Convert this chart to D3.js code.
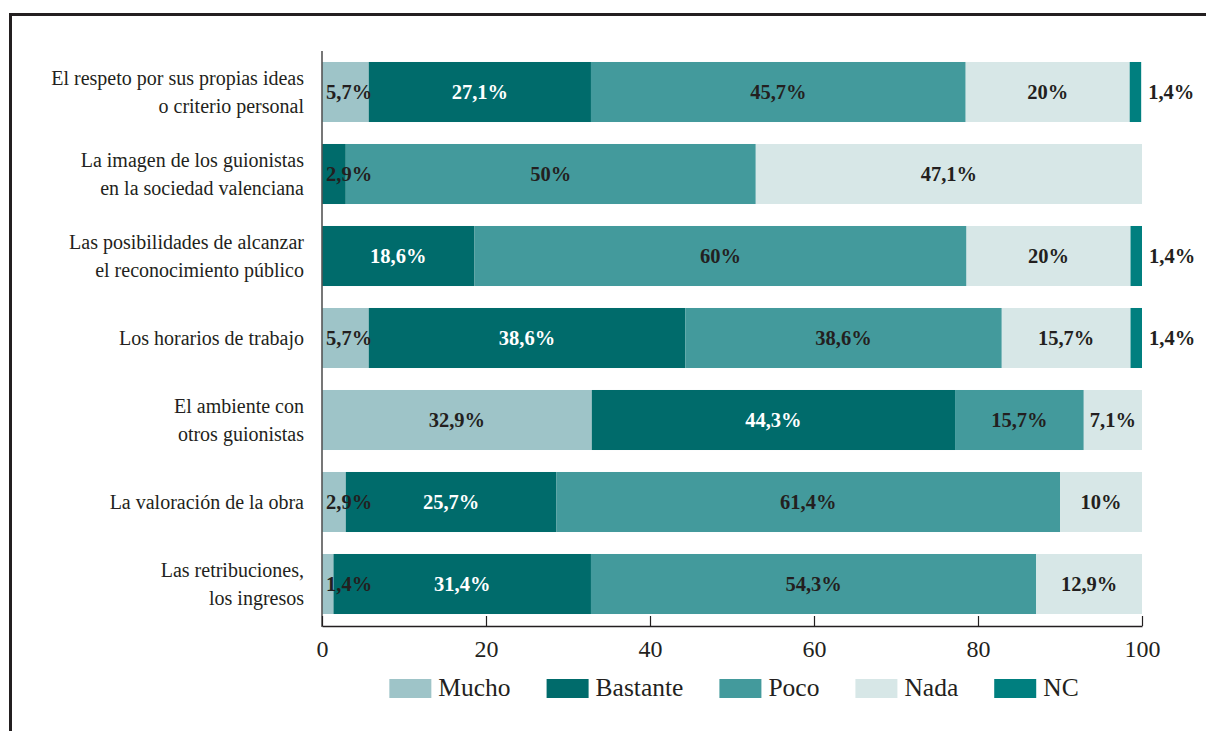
<!DOCTYPE html>
<html>
<head>
<meta charset="utf-8">
<script src="https://cdn.jsdelivr.net/npm/d3@7"></script>
<style>
  html, body { margin: 0; padding: 0; background: #fff; }
  svg { display: block; }
  text { font-family: "Liberation Serif", "Times New Roman", serif; fill: #231f20; }
</style>
</head>
<body>
<svg id="chart" width="1206" height="731"></svg>
<script>
// ---- data ----
const categories = [
  ["El respeto por sus propias ideas", "o criterio personal"],
  ["La imagen de los guionistas", "en la sociedad valenciana"],
  ["Las posibilidades de alcanzar", "el reconocimiento público"],
  ["Los horarios de trabajo"],
  ["El ambiente con", "otros guionistas"],
  ["La valoración de la obra"],
  ["Las retribuciones,", "los ingresos"]
];
const seriesNames = ["Mucho", "Bastante", "Poco", "Nada", "NC"];
const mucho    = [5.7, 0, 0, 5.7, 32.9, 2.9, 1.4];
const bastante = [27.1, 2.9, 18.6, 38.6, 44.3, 25.7, 31.4];
const poco     = [45.7, 50, 60, 38.6, 15.7, 61.4, 54.3];
const nada     = [20, 47.1, 20, 15.7, 7.1, 10, 12.9];
const nc       = [1.4, 0, 1.4, 1.4, 0, 0, 0];
const xTicks   = [0, 20, 40, 60, 80, 100];

const colors = {
  Mucho: "#9ec4c8",
  Bastante: "#006b6b",
  Poco: "#439a9c",
  Nada: "#d7e7e7",
  NC: "#007f7f"
};

const seriesValues = [mucho, bastante, poco, nada, nc];
const catKeys = categories.map((c, i) => "c" + i);
const rows = catKeys.map((k, i) => {
  const r = { key: k };
  seriesNames.forEach((s, j) => r[s] = seriesValues[j][i]);
  return r;
});

const svg = d3.select("#chart");

// frame
svg.append("rect")
  .attr("x", 10.5).attr("y", 14.5)
  .attr("width", 1400).attr("height", 900)
  .attr("fill", "none").attr("stroke", "#231f20").attr("stroke-width", 3);

const x = d3.scaleLinear().domain([0, 100]).range([322, 1142]);
const y = d3.scaleBand().domain(catKeys).range([51, 625])
  .paddingInner(0.268).paddingOuter(0.134);

const stack = d3.stack().keys(seriesNames)(rows);

const fmt = v => String(v).replace(".", ",") + "%";

const g = svg.append("g");
stack.forEach(layer => {
  const name = layer.key;
  g.selectAll(null).data(layer).enter().append("rect")
    .attr("x", d => x(d[0]))
    .attr("y", d => y(d.data.key))
    .attr("width", d => Math.max(0, x(d[1]) - x(d[0])))
    .attr("height", y.bandwidth())
    .attr("fill", colors[name]);
});

// value labels
stack.forEach(layer => {
  const name = layer.key;
  layer.forEach(d => {
    const v = d.data[name];
    if (!v) return;
    const cy = y(d.data.key) + y.bandwidth() / 2;
    const t = g.append("text")
      .attr("font-weight", "bold")
      .attr("font-size", 20.5)
      .attr("y", cy)
      .attr("dy", "0.34em")
      .text(fmt(v));
    const w = t.node().getComputedTextLength();
    if (name === "NC") {
      t.attr("x", x(d[1]) + 7).attr("text-anchor", "start");
    } else {
      let cx = (x(d[0]) + x(d[1])) / 2;
      cx = Math.max(cx, x(d[0]) + 4 + w / 2);
      t.attr("x", cx).attr("text-anchor", "middle");
      const white = name === "Bastante" && (x(d[1]) - x(d[0])) > w + 4;
      t.style("fill", white ? "#ffffff" : "#231f20");
    }
  });
});

// category labels
categories.forEach((lines, i) => {
  const cy = y(catKeys[i]) + y.bandwidth() / 2;
  const t = svg.append("text")
    .attr("text-anchor", "end")
    .attr("font-size", 20);
  lines.forEach((ln, j) => {
    const off = lines.length === 1 ? 7 : (j === 0 ? -7 : 21);
    t.append("tspan").attr("x", 304).attr("y", cy + off).text(ln);
  });
});

// y axis line
svg.append("line")
  .attr("x1", 322).attr("x2", 322)
  .attr("y1", 51).attr("y2", 627)
  .attr("stroke", "#555").attr("stroke-width", 1.6);

// x axis
const axisY = 626;
const xAxis = d3.axisBottom(x).tickValues(xTicks).tickSize(-10).tickSizeOuter(0).tickPadding(0)
  .tickFormat(d3.format("d"));
const ax = svg.append("g").attr("transform", `translate(0,${axisY})`).call(xAxis);
ax.select(".domain").attr("stroke", "#231f20").attr("stroke-width", 1.6);
ax.selectAll(".tick line").attr("stroke", "#231f20").attr("stroke-width", 1.2);
ax.selectAll(".tick text")
  .attr("font-family", "Liberation Serif")
  .attr("font-size", 24)
  .attr("fill", "#231f20")
  .attr("y", 31).attr("dy", 0);

// legend
const leg = svg.append("g");
let cursor = 0;
seriesNames.forEach(s => {
  const it = leg.append("g");
  it.append("rect").attr("width", 42).attr("height", 19).attr("y", -17).attr("fill", colors[s]);
  const t = it.append("text").attr("x", 49).attr("font-size", 25.5).text(s);
  const w = 49 + t.node().getComputedTextLength();
  it.attr("transform", `translate(${cursor},0)`);
  cursor += w + 36;
});
const totalW = cursor - 36;
leg.attr("transform", `translate(${734 - totalW / 2},${696})`);
</script>
</body>
</html>
